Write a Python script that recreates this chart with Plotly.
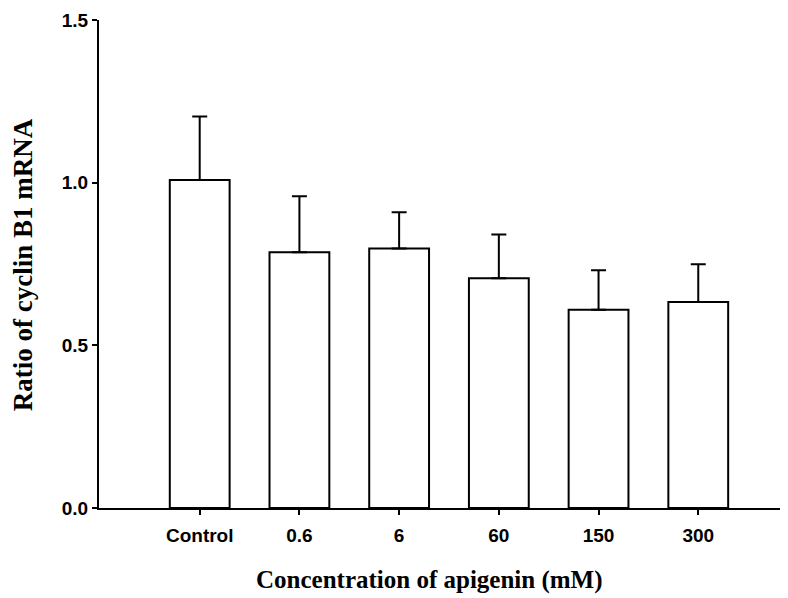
import plotly.graph_objects as go

# datos
CATEGORIAS = ["Control", "0.6", "6", "60", "150", "300"]
MEDIAS = [1.008, 0.786, 0.798, 0.706, 0.609, 0.633]
ERRORES = [0.195, 0.172, 0.111, 0.135, 0.122, 0.116]
Y_TICKS = [0.0, 0.5, 1.0, 1.5]

x_pos = list(range(len(CATEGORIAS)))

fig = go.Figure(go.Bar(
    x=x_pos, y=MEDIAS,
    width=0.6,
    marker=dict(color="white", line=dict(color="black", width=2)),
    error_y=dict(
        type="data", array=ERRORES, arrayminus=[0] * len(ERRORES),
        symmetric=False, color="black", thickness=2, width=7.5,
    ),
    showlegend=False,
))

tick_font = dict(family="Liberation Sans, Arial", size=19, color="black")
title_font = dict(family="Liberation Serif, Times New Roman", color="black")

fig.update_xaxes(
    range=[-1.01, 5.9],
    tickmode="array", tickvals=x_pos, ticktext=[f"<b>{c}</b>" for c in CATEGORIAS],
    showline=True, linecolor="black", linewidth=2,
    ticks="outside", ticklen=5, tickwidth=2, tickcolor="black",
    ticklabelstandoff=4,
    showgrid=False, zeroline=False, tickfont=tick_font,
)
fig.update_yaxes(
    range=[0, 1.5],
    tickmode="array", tickvals=Y_TICKS, ticktext=[f"<b>{v:.1f}</b>" for v in Y_TICKS],
    showline=True, linecolor="black", linewidth=2,
    ticks="outside", ticklen=5, tickwidth=2, tickcolor="black",
    showgrid=False, zeroline=False, tickfont=tick_font,
)

fig.add_annotation(
    text="<b>Concentration of apigenin (mM)</b>",
    xref="paper", yref="paper", x=0.480, y=-0.147,
    xanchor="center", yanchor="middle", showarrow=False,
    font=dict(size=25, **title_font),
)
fig.add_annotation(
    text="<b>Ratio of cyclin B1 mRNA</b>",
    xref="paper", yref="paper", x=-0.110, y=0.498, textangle=-90,
    xanchor="center", yanchor="middle", showarrow=False,
    font=dict(size=27, **title_font),
)

# la página tiene 8 px de margen en el body
fig.update_layout(
    width=780, height=590,
    margin=dict(l=91, r=0, t=12, b=90),
    plot_bgcolor="white", paper_bgcolor="white",
)

fig.write_html("out.html")
